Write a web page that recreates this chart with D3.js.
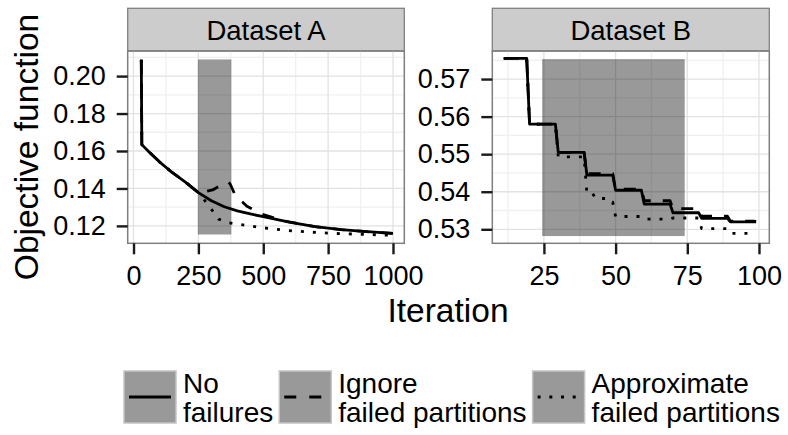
<!DOCTYPE html>
<html>
<head>
<meta charset="utf-8">
<script src="https://cdn.jsdelivr.net/npm/d3@7"></script>
<style>
body { margin: 0; background: #fff; }
svg { font-family: "Liberation Sans", Arial, Helvetica, sans-serif; }
</style>
</head>
<body>
<div id="chart"></div>
<script>
// facet strips + legend
const panelTitles = ['Dataset A', 'Dataset B'];
const seriesNames = ['No failures', 'Ignore failed partitions', 'Approximate failed partitions'];
const legendLines = [['No', 'failures'], ['Ignore', 'failed partitions'], ['Approximate', 'failed partitions']];

// ticks
const xTicksA = [0, 250, 500, 750, 1000];
const yTicksA = [0.12, 0.14, 0.16, 0.18, 0.20];
const xTicksB = [25, 50, 75, 100];
const yTicksB = [0.53, 0.54, 0.55, 0.56, 0.57];

// axis limits (ggplot expanded)
const xLimA = [-22.4, 1043.6];
const yLimA = [0.1107, 0.2134];
const xLimB = [7.0, 103.6];
const yLimB = [0.52627, 0.57747];

// failure windows: [iter start, iter end, y min, y max]
const failA = [248, 377, 0.1154, 0.2089];
const failB = [24.4, 74.1, 0.5282, 0.5753];

// Dataset A, [iteration, objective]
const noFailA = [[30, 0.2087], [32, 0.1634], [60, 0.1595], [100, 0.1542], [150, 0.1484], [200, 0.1434],
    [250, 0.1378], [300, 0.1334], [350, 0.1302], [400, 0.1280], [450, 0.1264], [500, 0.1249],
    [600, 0.1220], [700, 0.1196], [800, 0.1180], [900, 0.1169], [1000, 0.1160]];
const ignoreA = [[30, 0.2087], [32, 0.1634], [60, 0.1595], [100, 0.1542], [150, 0.1484], [200, 0.1434],
    [250, 0.1378], [260, 0.1378], [305, 0.1392], [344, 0.1423], [362, 0.1436], [372, 0.1425],
    [392, 0.1364], [437, 0.1305], [497, 0.1262], [569, 0.1230], [600, 0.1221], [700, 0.1196],
    [800, 0.1180], [900, 0.1169], [1000, 0.1160]];
const approxA = [[30, 0.2087], [32, 0.1634], [60, 0.1595], [100, 0.1542], [150, 0.1484], [200, 0.1434],
    [250, 0.1378], [280, 0.1326], [305, 0.1280], [328, 0.1236], [363, 0.1217], [405, 0.1209],
    [492, 0.1191], [582, 0.1177], [665, 0.1168], [768, 0.1160], [880, 0.1155], [1000, 0.1150]];

// Dataset B, change points [iteration, objective]
const noFailB = [[11, 0.5755], [20, 0.5580], [30, 0.5505], [40, 0.5444], [50, 0.5404], [60, 0.5367],
    [70, 0.5344], [80, 0.5329], [90, 0.5320], [99, 0.5320]];
const ignoreB = [[11, 0.5755], [20, 0.5580], [30, 0.5505], [40, 0.5448], [50, 0.5407], [60, 0.5376],
    [70, 0.5355], [80, 0.5335], [90, 0.5322], [99, 0.5321]];
const approxB = [[11, 0.5755], [20, 0.5580], [30, 0.5493], [40, 0.5395], [43, 0.5382], [48, 0.5372],
    [50, 0.5334], [60, 0.5327], [70, 0.5330], [80, 0.5302], [90, 0.5289], [99, 0.5289]];

const lineStyles = [null, '12 12', '3 9'];

const svg = d3.select('#chart').append('svg')
    .attr('width', 788)
    .attr('height', 435);

// step series: value changes between iteration-1 and iteration
function toSteps(pts) {
    const out = [pts[0]];
    for (let i = 1; i < pts.length; i++) {
        const prev = out[out.length - 1][1];
        if (pts[i][1] !== prev) out.push([pts[i][0] - 1, prev]);
        out.push(pts[i]);
    }
    return out;
}

function minorOf(ticks, lim) {
    const step = ticks[1] - ticks[0];
    const all = [ticks[0] - step].concat(ticks, [ticks[ticks.length - 1] + step]);
    const mids = [];
    for (let i = 1; i < all.length; i++) mids.push((all[i - 1] + all[i]) / 2);
    return mids.filter(v => v > lim[0] && v < lim[1]);
}

class Panel {

    constructor(_config, _series) {
        this.config = _config;
        this.series = _series;
        this.initVis();
        this.renderVis();
    }

    initVis() {
        let vis = this;
        const c = vis.config;
        vis.xScale = d3.scaleLinear().domain(c.xLim).range([c.left, c.right]);
        vis.yScale = d3.scaleLinear().domain(c.yLim).range([c.bottom, c.top]);
        vis.g = svg.append('g');
        // strip
        vis.g.append('rect')
            .attr('x', c.left).attr('y', c.stripTop)
            .attr('width', c.right - c.left).attr('height', c.top - c.stripTop)
            .attr('fill', '#cccccc').attr('stroke', '#7f7f7f').attr('stroke-width', 1.3);
        vis.g.append('text')
            .attr('x', (c.left + c.right) / 2)
            .attr('y', (c.stripTop + c.top) / 2)
            .attr('dy', '0.37em')
            .attr('text-anchor', 'middle')
            .attr('font-size', 27.5)
            .text(c.title);
    }

    renderVis() {
        let vis = this;
        const c = vis.config;
        // grid
        const grid = vis.g.append('g');
        grid.selectAll('.vminor').data(minorOf(c.xTicks, c.xLim)).join('line')
            .attr('x1', d => vis.xScale(d)).attr('x2', d => vis.xScale(d))
            .attr('y1', c.top).attr('y2', c.bottom)
            .attr('stroke', '#f0f0f0').attr('stroke-width', 1.3);
        grid.selectAll('.hminor').data(minorOf(c.yTicks, c.yLim)).join('line')
            .attr('y1', d => vis.yScale(d)).attr('y2', d => vis.yScale(d))
            .attr('x1', c.left).attr('x2', c.right)
            .attr('stroke', '#f0f0f0').attr('stroke-width', 1.3);
        grid.selectAll('.vmajor').data(c.xTicks).join('line')
            .attr('x1', d => vis.xScale(d)).attr('x2', d => vis.xScale(d))
            .attr('y1', c.top).attr('y2', c.bottom)
            .attr('stroke', '#e2e2e2').attr('stroke-width', 1.3);
        grid.selectAll('.hmajor').data(c.yTicks).join('line')
            .attr('y1', d => vis.yScale(d)).attr('y2', d => vis.yScale(d))
            .attr('x1', c.left).attr('x2', c.right)
            .attr('stroke', '#e2e2e2').attr('stroke-width', 1.3);
        // failure window
        vis.g.append('rect')
            .attr('x', vis.xScale(c.fail[0]))
            .attr('width', vis.xScale(c.fail[1]) - vis.xScale(c.fail[0]))
            .attr('y', vis.yScale(c.fail[3]))
            .attr('height', vis.yScale(c.fail[2]) - vis.yScale(c.fail[3]))
            .attr('fill', '#000').attr('fill-opacity', 0.4);
        // lines
        const line = d3.line().x(d => vis.xScale(d[0])).y(d => vis.yScale(d[1]));
        vis.series.forEach((s, i) => {
            vis.g.append('path')
                .datum(c.step ? toSteps(s) : s)
                .attr('d', line)
                .attr('fill', 'none')
                .attr('stroke', '#000')
                .attr('stroke-width', 2.8)
                .attr('stroke-linejoin', 'round')
                .attr('stroke-dasharray', lineStyles[i]);
        });
        // border
        vis.g.append('rect')
            .attr('x', c.left).attr('y', c.top)
            .attr('width', c.right - c.left).attr('height', c.bottom - c.top)
            .attr('fill', 'none').attr('stroke', '#7f7f7f').attr('stroke-width', 1.5);
        // axes
        const yAxis = d3.axisLeft(vis.yScale).tickValues(c.yTicks).tickFormat(d3.format('.2f'))
            .tickSize(11).tickPadding(11);
        const xAxis = d3.axisBottom(vis.xScale).tickValues(c.xTicks).tickFormat(d3.format('d'))
            .tickSize(11).tickPadding(12);
        const yG = vis.g.append('g').attr('transform', `translate(${c.left},0)`).call(yAxis);
        const xG = vis.g.append('g').attr('transform', `translate(0,${c.bottom})`).call(xAxis);
        [yG, xG].forEach(a => {
            a.select('.domain').remove();
            a.selectAll('.tick line').attr('stroke', '#1a1a1a').attr('stroke-width', 2.4);
            a.selectAll('.tick text').attr('fill', '#000').attr('font-size', 27)
                .attr('font-family', '"Liberation Sans", Arial, sans-serif');
        });
    }
}

new Panel({
    title: panelTitles[0], left: 127.7, right: 404.3, top: 51, bottom: 243.3, stripTop: 8.3,
    xLim: xLimA, yLim: yLimA, xTicks: xTicksA, yTicks: yTicksA, fail: failA, step: false
}, [noFailA, ignoreA, approxA]);

new Panel({
    title: panelTitles[1], left: 492.3, right: 769.3, top: 51, bottom: 243.3, stripTop: 8.3,
    xLim: xLimB, yLim: yLimB, xTicks: xTicksB, yTicks: yTicksB, fail: failB, step: true
}, [noFailB, ignoreB, approxB]);

// axis titles
svg.append('text')
    .attr('transform', 'translate(38,147) rotate(-90)')
    .attr('text-anchor', 'middle')
    .attr('font-size', 33.5)
    .text('Objective function');
svg.append('text')
    .attr('x', 448).attr('y', 322)
    .attr('text-anchor', 'middle')
    .attr('font-size', 33.5)
    .text('Iteration');

// legend
const legend = svg.append('g');
let lx = 124;
const keySize = 52, keyTop = 371;
seriesNames.forEach((name, i) => {
    const g = legend.append('g').attr('class', 'legend-item').attr('data-name', name);
    g.append('rect')
        .attr('x', lx).attr('y', keyTop)
        .attr('width', keySize).attr('height', keySize)
        .attr('fill', '#999999').attr('stroke', '#c4c4c4').attr('stroke-width', 1.5);
    g.append('line')
        .attr('x1', lx + 5).attr('x2', lx + 47)
        .attr('y1', keyTop + keySize / 2).attr('y2', keyTop + keySize / 2)
        .attr('stroke', '#000').attr('stroke-width', 2.8)
        .attr('stroke-dasharray', i === 2 ? '3 8.7' : (i === 1 ? '12 13' : null));
    const t = g.append('text')
        .attr('x', lx + keySize + 7)
        .attr('font-size', 28);
    legendLines[i].forEach((s, j) => {
        t.append('tspan')
            .attr('x', lx + keySize + 7)
            .attr('y', keyTop + 22.3 + j * 28.4)
            .text(s);
    });
    lx += keySize + 7 + t.node().getBBox().width + 6;
});
</script>
</body>
</html>
